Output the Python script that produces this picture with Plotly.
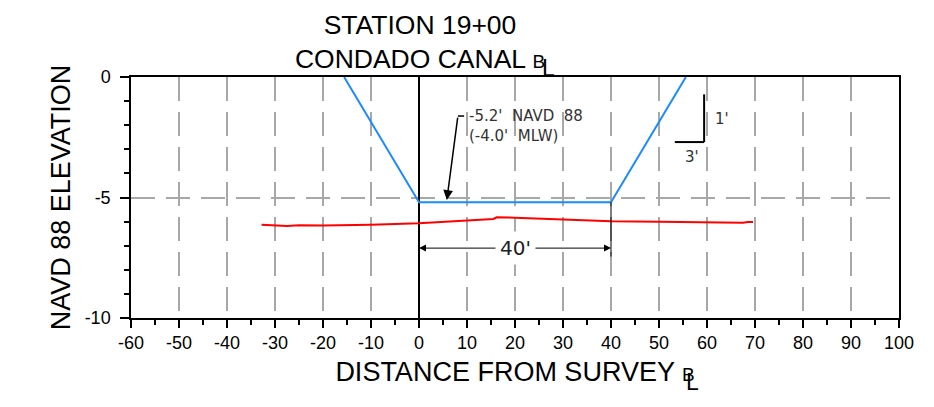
import plotly.graph_objects as go

# ---- data ----
design_x = [-15.6, 0, 40, 55.6]
design_y = [0, -5.2, -5.2, 0]
ground_x = [-32.8, -27.5, -25.0, -20.0, -10.0, 0.0, 15.5, 16.2, 20.0, 40.0, 50.0, 60.0, 67.5, 68.5, 69.6]
ground_y = [-6.13, -6.18, -6.15, -6.16, -6.13, -6.07, -5.89, -5.82, -5.84, -5.99, -6.01, -6.02, -6.05, -6.02, -6.02]
x_ticks = list(range(-60, 101, 10))
x_ticktext = [str(v) for v in x_ticks]
y_ticks = [0, -5, -10]
y_ticktext = ["0", "-5", "-10"]

SANS = "Liberation Sans, Arial, sans-serif"
DJV = "DejaVu Sans, sans-serif"
TICKFONT = dict(family=SANS, size=18, color="black")
TITLEFONT = dict(family=SANS, size=26.5, color="black")
AXTITLEFONT = dict(family=SANS, size=27, color="black")
GRID = dict(showgrid=True, gridcolor="#a8a8a8", gridwidth=1.5, griddash="24px,11px")
BSPAN = "<span style='font-size:19px'>B</span>"

fig = go.Figure()
fig.add_trace(go.Scatter(x=ground_x, y=ground_y, mode="lines",
                         line=dict(color="#ff0000", width=2), hoverinfo="skip"))
fig.add_trace(go.Scatter(x=design_x, y=design_y, mode="lines",
                         line=dict(color="#1a8cff", width=2), hoverinfo="skip"))


def px_x(p):
    return (p - 131) / 768


def px_y(p):
    return (318 - p) / 241


fig.update_layout(
    width=934, height=407,
    margin=dict(l=131, r=35, t=77, b=89),
    paper_bgcolor="white", plot_bgcolor="white",
    showlegend=False,
    title=dict(text="STATION 19+00<br>CONDADO CANAL " + BSPAN, font=TITLEFONT,
               x=420 / 934, xref="container", xanchor="center",
               y=1 - 34 / 407, yref="container", yanchor="top"),
    xaxis=dict(range=[-60, 100], tickmode="array", tickvals=x_ticks, ticktext=x_ticktext,
               ticks="outside", ticklen=8, tickwidth=1.5, tickcolor="black",
               minor=dict(tickmode="linear", tick0=0, dtick=5, ticks="outside",
                          ticklen=5, tickwidth=1.5, tickcolor="black", showgrid=False),
               showline=True, linecolor="black", linewidth=1.5, mirror=True,
               zeroline=True, zerolinecolor="black", zerolinewidth=2,
               tickfont=TICKFONT,
               title=dict(text="DISTANCE FROM SURVEY " + BSPAN, font=AXTITLEFONT, standoff=10),
               **GRID),
    xaxis2=dict(overlaying="x", anchor="y", side="bottom", range=[-60, 100],
                tickmode="linear", tick0=0, dtick=5, ticks="inside", ticklen=6,
                tickwidth=1.5, tickcolor="black", showticklabels=False,
                showgrid=False, zeroline=False, showline=False),
    yaxis=dict(range=[-10, 0], tickmode="array", tickvals=y_ticks, ticktext=y_ticktext,
               ticks="outside", ticklen=9, tickwidth=1.5, tickcolor="black",
               minor=dict(tickmode="linear", tick0=0, dtick=1, ticks="outside",
                          ticklen=5, tickwidth=1.5, tickcolor="black", showgrid=False),
               showline=True, linecolor="black", linewidth=1.5, mirror=True,
               zeroline=False, tickfont=TICKFONT, ticklabelstandoff=6,
               title=dict(text="NAVD 88 ELEVATION", font=AXTITLEFONT, standoff=6),
               **GRID),
    yaxis2=dict(overlaying="y", anchor="x", side="right", range=[-10, 0],
                tickmode="array", tickvals=y_ticks, ticktext=y_ticktext,
                ticks="outside", ticklen=10, tickwidth=1.5, tickcolor="black",
                minor=dict(tickmode="linear", tick0=0, dtick=1, ticks="outside",
                           ticklen=6, tickwidth=1.5, tickcolor="black", showgrid=False),
                showline=True, linecolor="black", linewidth=1.5,
                showgrid=False, zeroline=False, tickfont=TICKFONT, ticklabelstandoff=6),
    yaxis3=dict(overlaying="y", anchor="x", side="left", range=[-10, 0],
                tickmode="linear", tick0=0, dtick=1, ticks="inside", ticklen=6,
                tickwidth=1.5, tickcolor="black", showticklabels=False,
                showgrid=False, zeroline=False, showline=False),
    yaxis4=dict(overlaying="y", anchor="x", side="right", range=[-10, 0],
                tickmode="linear", tick0=0, dtick=1, ticks="inside", ticklen=6,
                tickwidth=1.5, tickcolor="black", showticklabels=False,
                showgrid=False, zeroline=False, showline=False),
)

# ---- shapes: slope symbol, leader hook, dimension extension ----
fig.add_shape(type="line", x0=59.4, x1=59.4, y0=-0.72, y1=-2.70, xref="x", yref="y",
              line=dict(color="black", width=2))
fig.add_shape(type="line", x0=53.3, x1=59.4, y0=-2.70, y1=-2.70, xref="x", yref="y",
              line=dict(color="black", width=2))
fig.add_shape(type="line", x0=8.1, x1=9.4, y0=-1.62, y1=-1.62, xref="x", yref="y",
              line=dict(color="black", width=1.5))
fig.add_shape(type="line", x0=40, x1=40, y0=-5.2, y1=-7.45, xref="x", yref="y",
              line=dict(color="black", width=1))

# ---- annotations ----
fig.add_annotation(x=5.8, y=-5.1, ax=8.1, ay=-1.62, axref="x", ayref="y", xref="x", yref="y",
                   text="", showarrow=True, arrowhead=2, arrowsize=1.3, arrowwidth=1.5,
                   arrowcolor="black")
fig.add_annotation(x=10.0, y=-1.15, xref="x", yref="y", xanchor="left", yanchor="top",
                   align="left", showarrow=False,
                   text="-5.2'\u00a0 NAVD\u00a0 88<br>(-4.0'\u00a0 MLW)",
                   font=dict(family=DJV, size=15, color="#333333"))
fig.add_annotation(x=63.1, y=-1.74, xref="x", yref="y", showarrow=False, text="1'",
                   xanchor="center", yanchor="middle",
                   font=dict(family=DJV, size=15, color="#333333"))
fig.add_annotation(x=56.9, y=-3.34, xref="x", yref="y", showarrow=False, text="3'",
                   xanchor="center", yanchor="middle",
                   font=dict(family=DJV, size=15, color="#333333"))
fig.add_annotation(x=0, y=-7.1, ax=20, ay=-7.1, axref="x", ayref="y", xref="x", yref="y",
                   text="", showarrow=True, arrowhead=2, arrowsize=1.4, arrowwidth=1,
                   arrowcolor="black")
fig.add_annotation(x=40, y=-7.1, ax=20, ay=-7.1, axref="x", ayref="y", xref="x", yref="y",
                   text="", showarrow=True, arrowhead=2, arrowsize=1.4, arrowwidth=1,
                   arrowcolor="black")
fig.add_annotation(x=20, y=-7.1, xref="x", yref="y", showarrow=False, text="40'",
                   xanchor="center", yanchor="middle",
                   bgcolor="white", borderpad=4,
                   font=dict(family=DJV, size=20, color="#222222"))
# the "L" of the baseline symbol, overlapping the "B" in the title and x-axis title
for lx, ly in [(548, 68.5), (692.5, 382)]:
    fig.add_annotation(x=px_x(lx), y=px_y(ly), xref="paper", yref="paper", showarrow=False,
                       xanchor="center", yanchor="middle",
                       text="L", font=dict(family=SANS, size=23, color="black"))

fig.write_html("out.html", config={"displayModeBar": False},
               post_script="document.body.style.margin='0px';")
